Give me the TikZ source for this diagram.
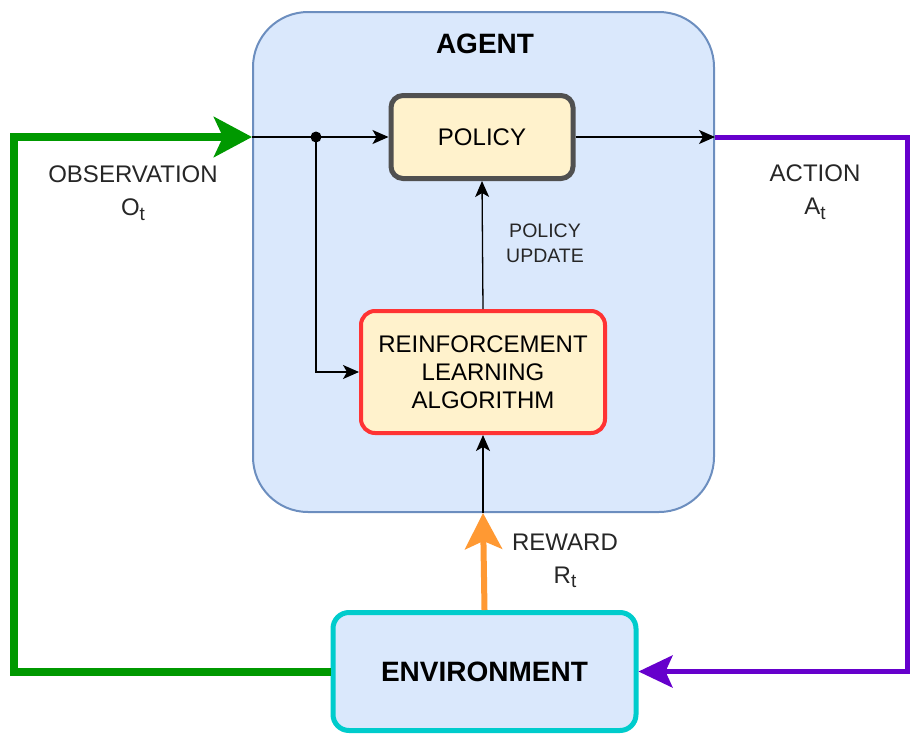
\documentclass[tikz,border=0pt]{standalone}
\usepackage{fontspec}
\setmainfont{Liberation Sans}
\usetikzlibrary{arrows.meta}
\definecolor{agentfill}{HTML}{DAE8FC}
\definecolor{agentline}{HTML}{6C8EBF}
\definecolor{polfill}{HTML}{FFF2CC}
\definecolor{polline}{HTML}{505050}
\definecolor{rlline}{HTML}{FF3333}
\definecolor{envline}{HTML}{00CCCC}
\definecolor{obsgreen}{HTML}{009900}
\definecolor{actpurple}{HTML}{6600CC}
\definecolor{rworange}{HTML}{FF9933}
\newcommand{\subt}{\raisebox{-0.35ex}{\fontsize{19}{19}\selectfont t}}
\tikzset{
  lbl/.style={font=\fontsize{24}{33}\selectfont, align=center, text=black!85},
  smalllbl/.style={font=\fontsize{19.5}{25}\selectfont, align=center, text=black!85},
  boxtext/.style={font=\fontsize{24}{28}\selectfont, align=center},
  boldtext/.style={font=\fontsize{28}{30}\selectfont\bfseries, align=center},
  thinarrow/.style={draw=black, line width=1.3pt, -{Stealth[length=16pt,width=14pt,inset=4pt]}},
}
\begin{document}
\begin{tikzpicture}[x=1pt,y=-1pt]
\useasboundingbox (0,0) rectangle (910,734);
% agent container
\node[draw=agentline, fill=agentfill, line width=2pt, rounded corners=55pt,
      minimum width=461pt, minimum height=500pt, inner sep=0pt] (agent) at (483.5,262) {};
\node[boldtext] (agentlbl) at (485,44) {AGENT};
% boxes
\node[draw=polline, fill=polfill, line width=5pt, rounded corners=12pt,
      minimum width=182pt, minimum height=83pt, inner sep=0pt, boxtext] (policy) at (482,137) {POLICY};
\node[draw=rlline, fill=polfill, line width=4pt, rounded corners=14pt,
      minimum width=244pt, minimum height=122pt, inner sep=0pt, boxtext] (rl) at (483,372)
      {REINFORCEMENT\\LEARNING\\ALGORITHM};
\node[draw=envline, fill=agentfill, line width=5pt, rounded corners=16pt,
      minimum width=303pt, minimum height=118pt, inner sep=0pt, boldtext] (env) at (484.5,671.5) {ENVIRONMENT};
% coordinates
\coordinate (obsin) at (agent.west |- policy.west);
\coordinate (split) at (316,137);
\coordinate (gl1) at (14,671.5);
\coordinate (gl2) at (14,137);
\coordinate (actout) at (agent.east |- policy.east);
\coordinate (pr1) at (907,137);
\coordinate (pr2) at (907,671.5);
\coordinate (rwtip) at (rl.south |- agent.south);
% observation (green)
\draw[draw=obsgreen, line width=8pt, -{Stealth[length=38pt,width=40pt,inset=9pt]}]
  (env.west) -- (gl1) -- (gl2) -- (obsin);
% inner observation lines
\draw[thinarrow] (obsin) -- (policy.west);
\draw[thinarrow] (split) |- (rl.west);
\fill (split) circle (5.5pt);
% action (purple)
\draw[thinarrow] (policy.east) -- (actout);
\draw[draw=actpurple, line width=5pt, -{Stealth[length=34pt,width=32pt,inset=7pt]}]
  (actout) -- (pr1) -- (pr2) -- (env.east);
% policy update
\draw[thinarrow] (rl.north) -- (policy.south);
% reward
\draw[draw=rworange, line width=6pt, -{Stealth[length=36pt,width=37pt,inset=8pt]}] (env.north) -- (rwtip);
\draw[thinarrow] (rwtip) -- (rl.south);
% labels
\node[lbl] (obslbl) at (133,193) {OBSERVATION\\O\subt};
\node[lbl] (actlbl) at (815,192) {ACTION\\A\subt};
\node[lbl] (rwlbl) at (565,561) {REWARD\\R\subt};
\node[smalllbl] (pulbl) at (545,243) {POLICY\\UPDATE};
\end{tikzpicture}
\end{document}
